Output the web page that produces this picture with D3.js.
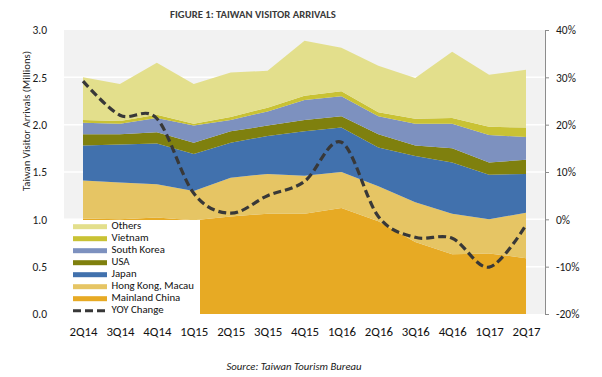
<!DOCTYPE html>
<html>
<head>
<meta charset="utf-8">
<script src="https://cdn.jsdelivr.net/npm/d3@7"></script>
<style>
  html, body { margin: 0; padding: 0; background: #ffffff; }
  svg { display: block; font-family: Carlito, Calibri, Lato, sans-serif; }
</style>
</head>
<body>
<svg id="chart" width="602" height="377"></svg>
<script>
// ---------- data ----------
const quarters = ["2Q14","3Q14","4Q14","1Q15","2Q15","3Q15","4Q15","1Q16","2Q16","3Q16","4Q16","1Q17","2Q17"];
const mainlandChina = [1.01,1.00,1.02,0.99,1.03,1.06,1.06,1.12,0.98,0.76,0.63,0.64,0.59];
const hongKongMacau = [0.40,0.39,0.35,0.31,0.41,0.42,0.40,0.38,0.37,0.42,0.43,0.36,0.48];
const japan        = [0.37,0.40,0.43,0.39,0.37,0.40,0.47,0.47,0.41,0.49,0.54,0.47,0.41];
const usa          = [0.12,0.11,0.12,0.12,0.12,0.11,0.12,0.12,0.14,0.11,0.15,0.13,0.15];
const southKorea   = [0.12,0.11,0.15,0.18,0.12,0.15,0.21,0.21,0.19,0.23,0.26,0.29,0.24];
const vietnam      = [0.03,0.03,0.035,0.02,0.03,0.04,0.046,0.053,0.042,0.053,0.06,0.087,0.10];
const others       = [0.45,0.39,0.55,0.42,0.47,0.39,0.58,0.46,0.49,0.43,0.70,0.55,0.61];
const yoyChange    = [29.2,22.0,21.3,5.5,1.3,5.0,8.0,16.3,0.6,-3.8,-4.0,-10.1,-1.2];

const seriesNames = ["Mainland China","Hong Kong, Macau","Japan","USA","South Korea","Vietnam","Others"];
const seriesValues = [mainlandChina, hongKongMacau, japan, usa, southKorea, vietnam, others];
const seriesColors = ["#e7aa24","#e6c564","#4171ad","#7f800e","#7d91bf","#c9c234","#e3df8c"];
const leftTicks = [0,0.5,1.0,1.5,2.0,2.5,3.0];
const rightTicks = [-20,-10,0,10,20,30,40];

// ---------- layout ----------
const svg = d3.select("#chart");
const plot = {left: 64, right: 545, top: 30, bottom: 314};
const FONT = "Carlito, Calibri, Lato, sans-serif";

const x = d3.scalePoint().domain(quarters).range([83, 526]);
const y = d3.scaleLinear().domain([0, 3]).range([plot.bottom, plot.top]);
const y2 = d3.scaleLinear().domain([-20, 40]).range([plot.bottom, plot.top]);

// background
svg.append("rect")
  .attr("x", plot.left).attr("y", plot.top)
  .attr("width", plot.right - plot.left).attr("height", plot.bottom - plot.top)
  .attr("fill", "#f2f2f2");

// gridlines
svg.append("g").selectAll("line")
  .data(leftTicks.filter(d => d > 0 && d < 3))
  .join("line")
  .attr("x1", plot.left).attr("x2", plot.right)
  .attr("y1", d => y(d)).attr("y2", d => y(d))
  .attr("stroke", "#ffffff").attr("stroke-width", 1.5);

// stacked areas
const rows = quarters.map((q, i) => {
  const r = {quarter: q};
  seriesNames.forEach((n, k) => r[n] = seriesValues[k][i]);
  return r;
});
const stack = d3.stack().keys(seriesNames)(rows);
const area = d3.area()
  .x(d => x(d.data.quarter))
  .y0(d => y(d[0]))
  .y1(d => y(d[1]));
svg.append("g").selectAll("path")
  .data(stack)
  .join("path")
  .attr("d", area)
  .attr("fill", (d, i) => seriesColors[i]);

// YOY line
const line = d3.line()
  .x((d, i) => x(quarters[i]))
  .y(d => y2(d))
  .curve(d3.curveCatmullRom.alpha(0));
svg.append("path")
  .datum(yoyChange)
  .attr("d", line)
  .attr("fill", "none")
  .attr("stroke", "#383838")
  .attr("stroke-width", 3.2)
  .attr("stroke-dasharray", "8,4");

// left axis
const gl = svg.append("g")
  .attr("transform", "translate(47,0)")
  .call(d3.axisLeft(y).tickValues(leftTicks).tickFormat(d3.format(".1f")).tickSize(0).tickPadding(0));
gl.select(".domain").remove();
gl.selectAll("text").attr("fill", "#1a1a1a").style("font-size", "11.5px")
  .style("font-family", FONT);

// right axis
const gr = svg.append("g")
  .attr("transform", `translate(${plot.right},0)`)
  .call(d3.axisRight(y2).tickValues(rightTicks).tickFormat(d => d + "%").tickSize(4).tickPadding(7));
gr.select(".domain").attr("stroke", "#8c8c8c");
gr.selectAll(".tick line").attr("stroke", "#8c8c8c");
gr.selectAll("text").attr("fill", "#1a1a1a").style("font-size", "11.5px")
  .style("font-family", FONT);

// bottom axis
const gb = svg.append("g")
  .attr("transform", `translate(0,${plot.bottom})`)
  .call(d3.axisBottom(x).tickSize(0).tickPadding(12.5));
gb.select(".domain").remove();
gb.selectAll("text").attr("fill", "#111111").style("font-size", "12.8px")
  .style("font-family", FONT);

// y-axis title
svg.append("text")
  .attr("transform", "translate(27,121) rotate(-90)")
  .attr("text-anchor", "middle")
  .attr("dominant-baseline", "middle")
  .attr("fill", "#262626")
  .style("font-size", "10.8px")
  .text("Taiwan Visitor Arrivals (Millions)");

// title
svg.append("text")
  .attr("x", 253).attr("y", 18)
  .attr("text-anchor", "middle")
  .attr("fill", "#3a3a3a")
  .style("font-size", "10.7px")
  .style("font-weight", "bold")
  .text("FIGURE 1: TAIWAN VISITOR ARRIVALS");

// source
svg.append("text")
  .attr("x", 294).attr("y", 370)
  .attr("text-anchor", "middle")
  .attr("fill", "#1a1a1a")
  .style("font-size", "10.7px")
  .style("font-style", "italic")
  .text("Source: Taiwan Tourism Bureau");

// legend
const legendItems = ["Others","Vietnam","South Korea","USA","Japan","Hong Kong, Macau","Mainland China","YOY Change"];
const legend = svg.append("g");
legend.append("rect")
  .attr("x", plot.left).attr("y", 220)
  .attr("width", 136).attr("height", 98)
  .attr("fill", "#ffffff");
legendItems.forEach((name, i) => {
  const cy = 226.7 + i * 12;
  if (name === "YOY Change") {
    legend.append("line")
      .attr("x1", 73).attr("x2", 107).attr("y1", cy).attr("y2", cy)
      .attr("stroke", "#383838").attr("stroke-width", 3)
      .attr("stroke-dasharray", "8,4");
  } else {
    const k = seriesNames.indexOf(name);
    legend.append("rect")
      .attr("x", 73).attr("y", cy - 2.5).attr("width", 34).attr("height", 5)
      .attr("fill", seriesColors[k]);
  }
  legend.append("text")
    .attr("x", 111.5).attr("y", cy)
    .attr("dominant-baseline", "middle")
    .attr("fill", "#111111")
    .style("font-size", "10.8px")
    .text(name);
});
</script>
</body>
</html>
